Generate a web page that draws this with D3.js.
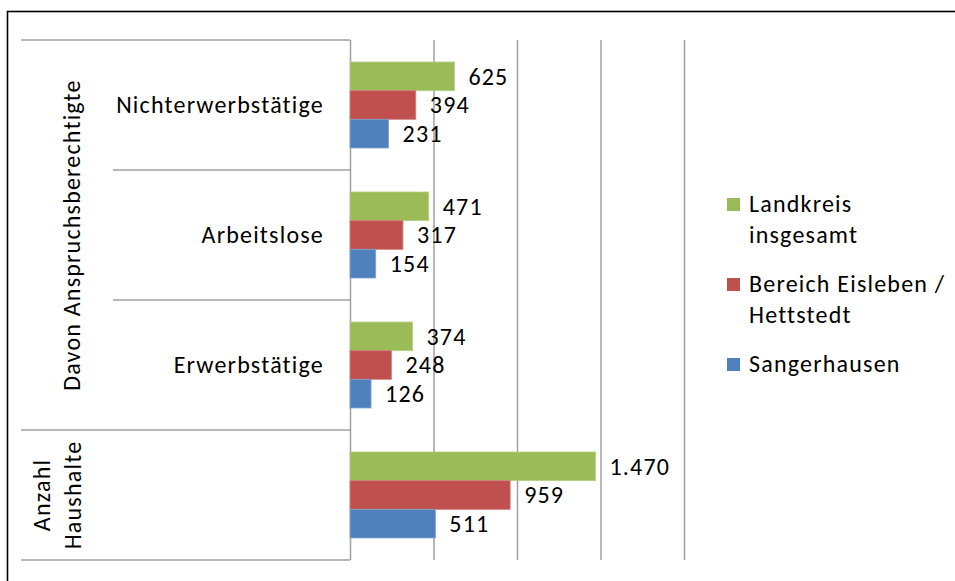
<!DOCTYPE html>
<html>
<head>
<meta charset="utf-8">
<script src="https://cdn.jsdelivr.net/npm/d3@7"></script>
<style>
  html, body { margin: 0; padding: 0; background: #fff; }
  svg { display: block; font-family: Carlito, Calibri, Lato, sans-serif; letter-spacing: 1.2px; }
</style>
</head>
<body>
<div id="app"></div>
<script>
const categories = ['Nichterwerbstätige', 'Arbeitslose', 'Erwerbstätige', 'Anzahl Haushalte'];
const seriesNames = ['Landkreis insgesamt', 'Bereich Eisleben / Hettstedt', 'Sangerhausen'];
const landkreis = [625, 471, 374, 1470];
const eisleben = [394, 317, 248, 959];
const sangerhausen = [231, 154, 126, 511];
const xTicks = [0, 500, 1000, 1500, 2000];
const groupLabel = 'Davon Anspruchsberechtigte';
const legendLines = [['Landkreis', 'insgesamt'], ['Bereich Eisleben /', 'Hettstedt'], ['Sangerhausen']];

const colors = ['#9bbb59', '#c0504d', '#4f81bd'];
const strokes = ['#b6cf85', '#d27f7d', '#7fa3d0'];

const width = 955;
const height = 581;
const plot = { left: 350, right: 684, top: 40, bottom: 560 };
const fontSize = 24;

const de = d3.formatLocale({ decimal: ',', thousands: '.', grouping: [3], currency: ['', ' €'] });
const fmt = de.format(',d');

const svg = d3.select('#app').append('svg')
  .attr('width', width)
  .attr('height', height);

svg.append('rect')
  .attr('width', width).attr('height', height)
  .attr('fill', '#fff');

// outer frame (runs off the right and bottom edge)
svg.append('rect')
  .attr('x', 7.5).attr('y', 11.5)
  .attr('width', 1000).attr('height', 700)
  .attr('fill', 'none')
  .attr('stroke', '#000')
  .attr('stroke-width', 1.6);

const x = d3.scaleLinear().domain([0, 2000]).range([plot.left, plot.right]);
const y = d3.scaleBand().domain(categories).range([plot.top, plot.bottom]);
const yInner = d3.scaleBand().domain(seriesNames).range([22, 108]);

// gridlines
const grid = svg.append('g')
  .attr('transform', `translate(0,${plot.bottom})`)
  .call(d3.axisBottom(x).tickValues(xTicks).tickSize(-(plot.bottom - plot.top)).tickFormat(''));
grid.select('.domain').remove();
grid.selectAll('line').attr('stroke', '#a0a0a0').attr('stroke-width', 1.5);

// category table lines
const tableLines = [
  { y: y(categories[0]), x0: 21 },
  { y: y(categories[1]), x0: 113 },
  { y: y(categories[2]), x0: 113 },
  { y: y(categories[3]), x0: 21 },
  { y: plot.bottom, x0: 21 }
];
svg.append('g').selectAll('line').data(tableLines).join('line')
  .attr('x1', d => d.x0).attr('x2', plot.left)
  .attr('y1', d => d.y).attr('y2', d => d.y)
  .attr('stroke', '#a0a0a0').attr('stroke-width', 1.5);

// category labels
svg.append('g').selectAll('text').data(categories.slice(0, 3)).join('text')
  .attr('x', 324)
  .attr('y', d => y(d) + y.bandwidth() / 2)
  .attr('dy', '0.35em')
  .attr('text-anchor', 'end')
  .attr('font-size', fontSize)
  .text(d => d);

svg.append('text')
  .attr('transform', `translate(80,${(y(categories[0]) + y(categories[3])) / 2}) rotate(-90)`)
  .attr('text-anchor', 'middle')
  .attr('font-size', fontSize)
  .text(groupLabel);

const hh = svg.append('text')
  .attr('transform', `translate(50,${y(categories[3]) + y.bandwidth() / 2}) rotate(-90)`)
  .attr('text-anchor', 'middle')
  .attr('font-size', fontSize);
hh.append('tspan').attr('x', 0).attr('dy', 0).text('Anzahl');
hh.append('tspan').attr('x', 0).attr('dy', 31).text('Haushalte');

// bars
const series = [landkreis, eisleben, sangerhausen];
const rows = [];
categories.forEach((c, i) => {
  series.forEach((s, j) => rows.push({ cat: c, name: seriesNames[j], j, value: s[i] }));
});

svg.append('g').selectAll('rect').data(rows).join('rect')
  .attr('x', x(0))
  .attr('y', d => y(d.cat) + yInner(d.name))
  .attr('width', d => x(d.value) - x(0))
  .attr('height', yInner.bandwidth())
  .attr('fill', d => colors[d.j])
  .attr('stroke', d => strokes[d.j])
  .attr('stroke-width', 0.8);

svg.append('g').selectAll('text').data(rows).join('text')
  .attr('x', d => x(d.value) + 14)
  .attr('y', d => y(d.cat) + yInner(d.name) + yInner.bandwidth() / 2)
  .attr('dy', '0.35em')
  .attr('font-size', fontSize)
  .text(d => fmt(d.value));

// legend
const legend = svg.append('g').selectAll('g').data(legendLines).join('g')
  .attr('transform', (d, i) => `translate(727,${212 + i * 80})`);
legend.append('rect')
  .attr('y', -14).attr('width', 13).attr('height', 13)
  .attr('fill', (d, i) => colors[i]);
legend.append('text')
  .attr('font-size', fontSize)
  .selectAll('tspan').data(d => d).join('tspan')
  .attr('x', 22)
  .attr('y', (d, i) => i * 31)
  .text(d => d);
</script>
</body>
</html>
